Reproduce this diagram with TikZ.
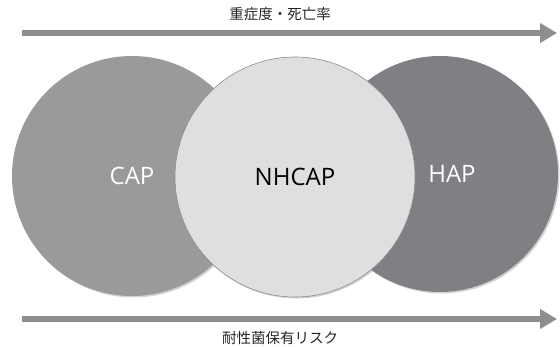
\documentclass[tikz,border=0pt]{standalone}
\usepackage{fontspec}
\setmainfont{Open Sans}
\newfontfamily\jp{Noto Sans CJK JP}
\usetikzlibrary{arrows.meta,shadows}
\definecolor{capc}{HTML}{9A9A9C}
\definecolor{nhc}{HTML}{DEDFE0}
\definecolor{hapc}{HTML}{7F8083}
\definecolor{arrc}{HTML}{8E8E8E}
\begin{document}
\begin{tikzpicture}[x=1pt,y=-1pt,
  circ/.style={circle,inner sep=0pt,minimum size=240pt,font=\fontsize{24}{28}\selectfont,
    drop shadow={shadow xshift=1.5pt,shadow yshift=-1.5pt,opacity=0.35}},
  bigarrow/.style={draw=arrc,line width=6.5pt,-{Triangle[length=17pt,width=19pt]}},
  lab/.style={font=\jp\fontsize{14.5}{16}\selectfont,text=black!85}]
\useasboundingbox (0,0) rectangle (560,347);
\node[circ,fill=capc,text=white] (cap) at (132,176) {CAP};
\node[circ,fill=hapc,text=white,minimum size=236pt] (hap) at (440,174) {\hspace*{24pt}HAP};
\node[circ,fill=nhc,draw=black!45,line width=0.6pt,text=black] (nh) at (295,177) {NHCAP};
\coordinate (t1) at (22,33);
\coordinate (t2) at (557,33);
\coordinate (b1) at (22,319);
\coordinate (b2) at (557,319);
\draw[bigarrow] (t1) -- (t2);
\draw[bigarrow] (b1) -- (b2);
\node[lab] (tl) at (280,14) {重症度・死亡率};
\node[lab] (bl) at (280,338) {耐性菌保有リスク};
\end{tikzpicture}
\end{document}
